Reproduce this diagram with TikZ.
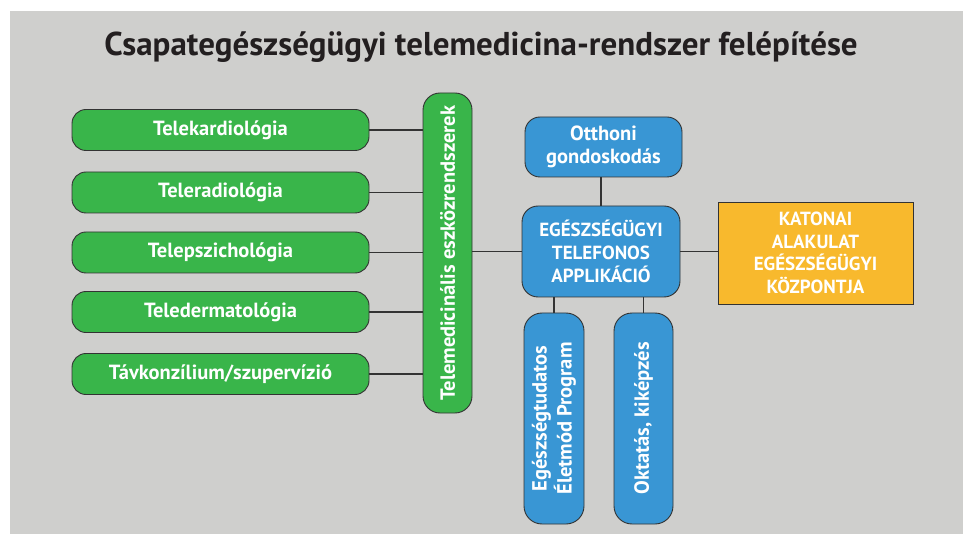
\documentclass[tikz,border=0pt]{standalone}
\usepackage{fontspec}
\setmainfont{PT Sans}
\definecolor{bggray}{HTML}{CFCFCD}
\definecolor{boxgreen}{HTML}{39B54A}
\definecolor{boxblue}{HTML}{3996D4}
\definecolor{boxorange}{HTML}{F8B92D}
\definecolor{edge}{HTML}{333333}
\definecolor{titlecol}{HTML}{231F20}
\tikzset{
  base/.style={draw=edge, line width=0.9pt, text=white, font=\fontsize{20.5}{22.5}\selectfont\bfseries, align=center, inner sep=0pt},
  capsfont/.style={font=\fontsize{19}{22.7}\selectfont\bfseries},
  greenbox/.style={base, fill=boxgreen, rounded corners=14pt, minimum width=297pt, minimum height=41pt},
  greenbar/.style={base, fill=boxgreen, rounded corners=17pt, minimum width=49pt, minimum height=320pt},
  bluebox/.style={base, fill=boxblue, rounded corners=15pt},
  orangebox/.style={base, capsfont, fill=boxorange, minimum width=195pt, minimum height=102pt},
  vlabel/.style={rotate=90, text=white, font=\fontsize{20.5}{25}\selectfont\bfseries, align=center},
  conn/.style={draw=edge, line width=1.1pt}
}
\begin{document}
\begin{tikzpicture}[x=1pt, y=-1pt]
\useasboundingbox (0,0) rectangle (963,534);
\fill[white] (0,0) rectangle (963,534);
\fill[bggray] (10,11) rectangle (963,534);

\node[font=\fontsize{33}{36}\selectfont\bfseries, text=titlecol] (title) at (481,47) {Csapategészségügyi telemedicina-rendszer felépítése};

\node[greenbox] (g1) at (220.5,130) {Telekardiológia};
\node[greenbox] (g2) at (220.5,192.5) {Teleradiológia};
\node[greenbox] (g3) at (220.5,252.5) {Telepszichológia};
\node[greenbox] (g4) at (220.5,312) {Teledermatológia};
\node[greenbox] (g5) at (220.5,374) {Távkonzílium/szupervízió};

\node[greenbar, label={[vlabel]center:Telemedicinális eszközrendszerek}] (bar) at (447.5,253) {};

\node[bluebox, minimum width=157pt, minimum height=60pt] (home) at (603.5,147) {Otthoni\\gondoskodás};
\node[bluebox, capsfont, rounded corners=16pt, minimum width=158pt, minimum height=91pt] (app) at (601,251.5) {EGÉSZSÉGÜGYI\\TELEFONOS\\APPLIKÁCIÓ};
\node[orangebox] (hq) at (815.5,253) {KATONAI\\ALAKULAT\\EGÉSZSÉGÜGYI\\KÖZPONTJA};

\node[bluebox, rounded corners=18pt, minimum width=60pt, minimum height=211pt, label={[vlabel]center:Egészségtudatos\\Életmód Program}] (life) at (554,418.5) {};
\node[bluebox, rounded corners=18pt, minimum width=59pt, minimum height=211pt, label={[vlabel]center:Oktatás, kiképzés}] (edu) at (643.5,418.5) {};

\foreach \g in {g1,g2,g3,g4,g5}{
  \draw[conn] (\g.east) -- (\g.east -| bar.west);
}
\draw[conn] (bar.east |- app.west) -- (app.west);
\draw[conn] (app.north) -- (app.north |- home.south);
\draw[conn] (app.east) -- (app.east -| hq.west);
\draw[conn] (life.north) -- (life.north |- app.south);
\draw[conn] (edu.north) -- (edu.north |- app.south);
\end{tikzpicture}
\end{document}
